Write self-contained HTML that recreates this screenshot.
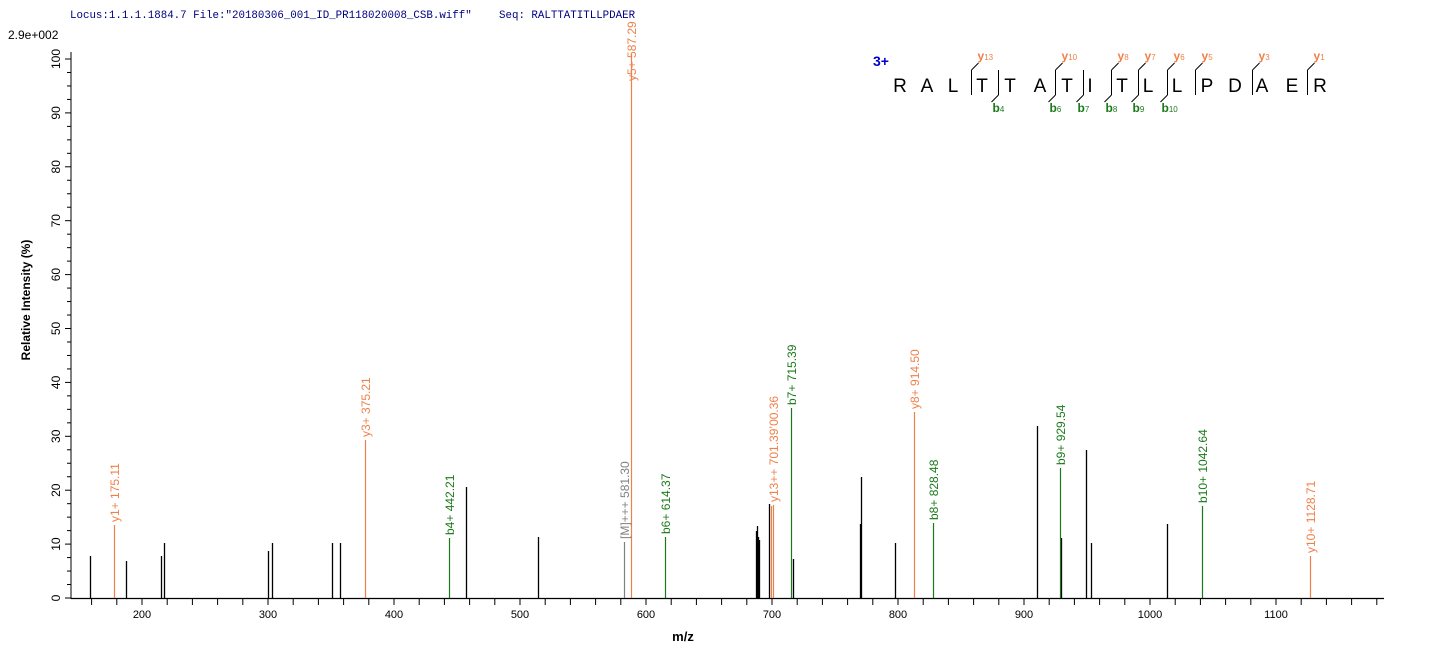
<!DOCTYPE html>
<html><head><meta charset="utf-8"><style>
html,body{margin:0;padding:0;background:#fff;}
svg{display:block;}
text{font-family:"Liberation Sans",Arial,sans-serif;}
</style></head><body>
<svg width="1436" height="658" viewBox="0 0 1436 658" xmlns="http://www.w3.org/2000/svg">
<text x="70" y="18" font-size="10.8" fill="#000080" style="font-family:'Liberation Mono',monospace">Locus:1.1.1.1884.7 File:"20180306_001_ID_PR118020008_CSB.wiff"</text>
<text x="499" y="18" font-size="10.8" fill="#000080" style="font-family:'Liberation Mono',monospace">Seq: RALTTATITLLPDAER</text>
<text x="8" y="39" font-size="12">2.9e+002</text>
<line x1="71" y1="52" x2="71" y2="599" stroke="#000" stroke-width="1"/>
<line x1="71" y1="598.5" x2="1384" y2="598.5" stroke="#000" stroke-width="1.2"/>
<g id="yt" stroke="#000"></g>
<g id="xt" stroke="#000"></g>
<g id="yl" font-size="12"></g>
<g id="xl" font-size="11"></g>
<text transform="translate(30,300) rotate(-90)" font-size="12" font-weight="bold" text-anchor="middle">Relative   Intensity (%)</text>
<text x="683" y="641" font-size="13" font-weight="bold" text-anchor="middle">m/z</text>
<g id="pk"></g>
<text x="873" y="66" font-size="14" font-weight="bold" fill="#0000cc">3+</text>
<g id="seq" font-size="19"></g>
<g id="frag" stroke="#000" fill="none"></g>
<g id="fl" font-size="12" font-weight="bold"></g>
<script>
var ns="http://www.w3.org/2000/svg";
function el(p,t,a,txt){var e=document.createElementNS(ns,t);for(var k in a)e.setAttribute(k,a[k]);if(txt!=null)e.textContent=txt;document.getElementById(p).appendChild(e);return e;}
for(var v=0;v<=100;v+=2.5){var y=598-v*5.39;var major=(v%10==0);el('yt','line',{x1:major?65:67,y1:y,x2:71,y2:y});if(major)el('yl','text',{transform:'translate(60,'+y+') rotate(-90)','text-anchor':'middle'},String(v));}
function X(m){return 142+(m-200)*1.26;}
for(var m=140;m<=1180;m+=20){var x=X(m);if(x<71||x>1384)continue;el('xt','line',{x1:x,y1:599,x2:x,y2:605});if(m%100==0&&m>=200&&m<=1100)el('xl','text',{x:x,y:618,'text-anchor':'middle'},String(m));}
var blk=[[90,556],[126,561],[161,556],[164,543],[268,551],[272,543],[332,543],[340,543],[466,487],[538,537],[756,531],[757,526],[758,537],[759,540],[769,504],[793,559],[860,524],[861,477],[895,543],[1037,426],[1061,538],[1086,450],[1091,543],[1167,524]];
blk.forEach(function(p){el('pk','line',{x1:p[0]+.5,y1:p[1],x2:p[0]+.5,y2:598,stroke:'#000','stroke-width':1.3});});
var O='#f0804a',G='#1a7a1a',Gr='#808080';
var lab=[[114,525,O,'y1+ 175.11'],[365,440,O,'y3+ 375.21'],[631,54,O,'y5+ 587.29',81],[773,505,O,'y13++ 701.39\u201900.36'],[914,412,O,'y8+ 914.50'],[1310,556,O,'y10+ 1128.71'],[449,538,G,'b4+ 442.21'],[665,537,G,'b6+ 614.37'],[791,408,G,'b7+ 715.39'],[933,523,G,'b8+ 828.48'],[1060,468,G,'b9+ 929.54'],[1202,506,G,'b10+ 1042.64'],[624,542,Gr,'[M]+++ 581.30']];
el('pk','line',{x1:771.5,y1:506,x2:771.5,y2:598,stroke:O,'stroke-width':1.2});
lab.forEach(function(p){el('pk','line',{x1:p[0]+.5,y1:p[1],x2:p[0]+.5,y2:598,stroke:p[2],'stroke-width':1.2});var ty=p[4]||(p[1]-3);el('pk','text',{transform:'translate('+(p[0]+5)+','+ty+') rotate(-90)',fill:p[2],'font-size':12},p[3]);});
var seq='RALTTATITLLPDAER',xs=[900,927,953,982,1010,1040,1067,1090,1122,1148,1177,1207,1235,1262,1292,1320];
for(var i=0;i<16;i++)el('seq','text',{x:xs[i],y:92,'text-anchor':'middle'},seq[i]);
var ys=[[971,'13'],[1055,'10'],[1111,'8'],[1138,'7'],[1167,'6'],[1195,'5'],[1252,'3'],[1307,'1']];
var bs=[[998,'4'],[1055,'6'],[1083,'7'],[1111,'8'],[1138,'9'],[1167,'10']];
var all={};ys.concat(bs).forEach(function(b){all[b[0]]=1;});
for(var bx in all){el('frag','line',{x1:+bx+.5,y1:70,x2:+bx+.5,y2:95});}
function lbl(x,y,c,l,n){var t=el('fl','text',{x:x,y:y,fill:c},l);var s=document.createElementNS(ns,'tspan');s.textContent=n;s.setAttribute('font-size','8');s.setAttribute('font-weight','normal');t.appendChild(s);}
ys.forEach(function(b){var x=b[0]+.5;el('frag','line',{x1:x,y1:70,x2:x+7,y2:63});lbl(x+6,60,O,'y',b[1]);});
bs.forEach(function(b){var x=b[0]+.5;el('frag','line',{x1:x,y1:95,x2:x-7,y2:102});lbl(x-6,112,G,'b',b[1]);});
</script>
</svg>
</body></html>
